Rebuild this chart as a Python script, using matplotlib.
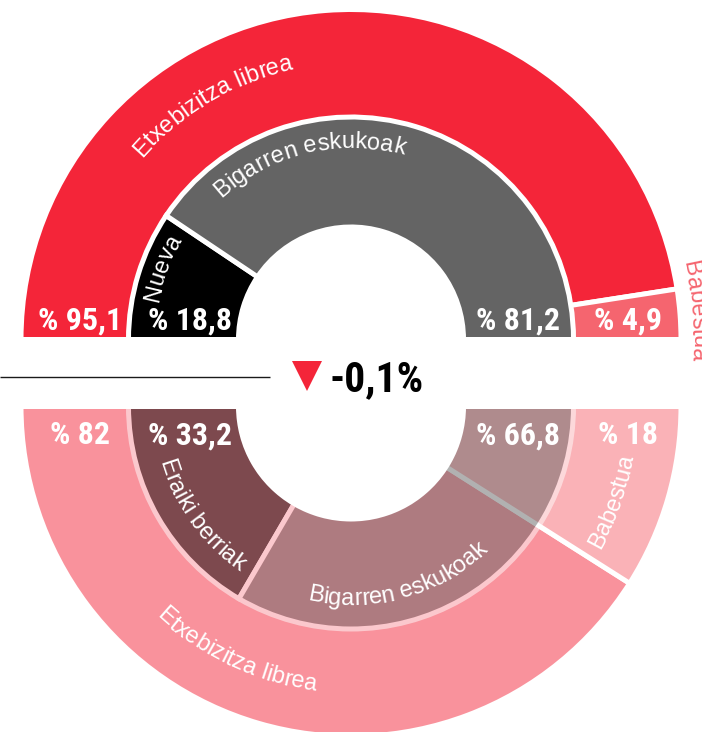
import numpy as np
import matplotlib
matplotlib.use("Agg")
import matplotlib.pyplot as plt
from matplotlib.patches import Wedge
from matplotlib.collections import PatchCollection
from matplotlib.font_manager import FontProperties

# ---------------- data ----------------
outer_names = ["Etxebizitza librea", "Babestua"]
inner_names_top = ["Nueva", "Bigarren eskukoak"]
inner_names_bottom = ["Eraiki berriak", "Bigarren eskukoak"]

outer_top = [95.1, 4.9]        # current period, outer ring (%)
inner_top = [18.8, 81.2]       # current period, inner ring (%)
outer_bottom = [82, 18]        # previous period, outer ring (%)
inner_bottom = [33.2, 66.8]    # previous period, inner ring (%)
change = -0.1                  # variation (%)

# ---------------- style ----------------
outer_colors = ["#f42539", "#f5656f"]
inner_colors = ["#000000", "#646464"]
faded_alpha = 0.5

W, H = 702, 732
fig = plt.figure(figsize=(W / 100, H / 100), dpi=100)
ax = fig.add_axes([0, 0, 1, 1])
ax.set_xlim(0, W)
ax.set_ylim(0, H)
ax.set_axis_off()
renderer = fig.canvas.get_renderer()


def Y(y):
    """convert a top-down pixel row into axis units"""
    return H - y


CX = 351
TOP_C = (CX, Y(339.5))
BOT_C = (CX, Y(406.5))
R_OUT = 330
R_MID = 222.5
R_HOLE = 112.5
EDGE = 3.6  # white separator width (pt)

label_font = FontProperties(family=["Liberation Sans", "DejaVu Sans"], size=17)
narrow = ["Liberation Sans Narrow", "Roboto Condensed", "DejaVu Sans"]
pct_font = FontProperties(family=narrow, weight="black", stretch="condensed", size=23)
big_font = FontProperties(family=narrow, weight="black", stretch="condensed", size=30)


class GroupFade:
    """composite a whole artist at reduced opacity (faces and strokes together)"""
    def __init__(self, alpha):
        self.alpha = alpha

    def __call__(self, im, dpi):
        out = im.copy()
        out[..., 3] = out[..., 3] * self.alpha
        return out, 0, 0


def fmt(v):
    return "% " + f"{v:g}".replace(".", ",")


def ring(values, colors, center, r, width, upper, alpha):
    patches = []
    start = 0.0
    for v in values:
        a0 = start * 1.8
        a1 = (start + v) * 1.8
        start += v
        if upper:
            t1, t2 = 180 - a1, 180 - a0
        else:
            t1, t2 = 180 + a0, 180 + a1
        patches.append(Wedge(center, r, t1, t2, width=width))
    coll = PatchCollection(patches, facecolors=colors[:len(values)],
                           edgecolors="white", linewidths=EDGE,
                           joinstyle="miter", match_original=False)
    if alpha < 1:
        coll.set_agg_filter(GroupFade(alpha))
    ax.add_collection(coll)


def arc_text(text, center, radius, theta_mid, color, clockwise, fp=label_font):
    """draw text character by character along a circle (radius = baseline)"""
    def w(s):
        return renderer.get_text_width_height_descent(s, fp, ismath=False)[0]
    base = w("xx")
    adv = [w("x" + ch + "x") - base for ch in text]
    pos = -sum(adv) / 2
    cx, cy = center
    for ch, a in zip(text, adv):
        d = pos + a / 2
        pos += a
        if clockwise:
            th = np.radians(theta_mid) - d / radius
            rot = np.degrees(th) - 90
        else:
            th = np.radians(theta_mid) + d / radius
            rot = np.degrees(th) + 90
        ax.text(cx + radius * np.cos(th), cy + radius * np.sin(th), ch,
                rotation=rot, rotation_mode="anchor", ha="center",
                va="baseline", color=color, fontproperties=fp)


# ---- upper half: current period ----
ring(outer_top, outer_colors, TOP_C, R_OUT, R_OUT - R_HOLE, True, 1.0)
ring(inner_top, inner_colors, TOP_C, R_MID, R_MID - R_HOLE, True, 1.0)

# ---- lower half: previous period (faded) ----
ring(outer_bottom, outer_colors, BOT_C, R_OUT, R_OUT - R_HOLE, False, faded_alpha)
ring(inner_bottom, inner_colors, BOT_C, R_MID, R_MID - R_HOLE, False, faded_alpha)

# ---- curved category names ----
arc_text(outer_names[0], TOP_C, 276.5, 120.5, "white", True)
arc_text(inner_names_top[1], TOP_C, 191.5, 103.3, "white", True)
arc_text(inner_names_top[0], TOP_C, 196.5, 159.3, "white", True)
arc_text(outer_names[1], TOP_C, 341, 4.7, outer_colors[1], True)

arc_text(outer_names[0], BOT_C, 286.5, -115.0, "white", False)
arc_text(inner_names_bottom[1], BOT_C, 198.5, -74.5, "white", False)
arc_text(inner_names_bottom[0], BOT_C, 199.5, -144.0, "white", False)
arc_text(outer_names[1], BOT_C, 287, -20.0, "white", False)

# ---- percentage labels ----
mid_outer = (R_OUT + R_MID) / 2 + 0.5
mid_inner = (R_MID + R_HOLE) / 2
nudge = 6
for vals_o, vals_i, base_y in [(outer_top, inner_top, Y(330)),
                               (outer_bottom, inner_bottom, Y(444.5))]:
    ax.text(CX - mid_outer + nudge, base_y, fmt(vals_o[0]), ha="center",
            va="baseline", color="white", fontproperties=pct_font)
    ax.text(CX + mid_outer, base_y, fmt(vals_o[1]), ha="center",
            va="baseline", color="white", fontproperties=pct_font)
    ax.text(CX - mid_inner + nudge, base_y, fmt(vals_i[0]), ha="center",
            va="baseline", color="white", fontproperties=pct_font)
    ax.text(CX + mid_inner, base_y, fmt(vals_i[1]), ha="center",
            va="baseline", color="white", fontproperties=pct_font)

# ---- centre: variation ----
ax.plot([0, 270], [Y(377), Y(377)], color="#1a1a1a", linewidth=1.0,
        solid_capstyle="butt")
arrow = "v" if change < 0 else "^"
ax.plot([307], [Y(375.5)], marker=arrow, markersize=22,
        color=outer_colors[0], markeredgewidth=0)
ax.text(330, Y(391), f"{change:g}".replace(".", ",") + "%", ha="left",
        va="baseline", color="black", fontproperties=big_font)

fig.savefig("out.png", dpi=100)
